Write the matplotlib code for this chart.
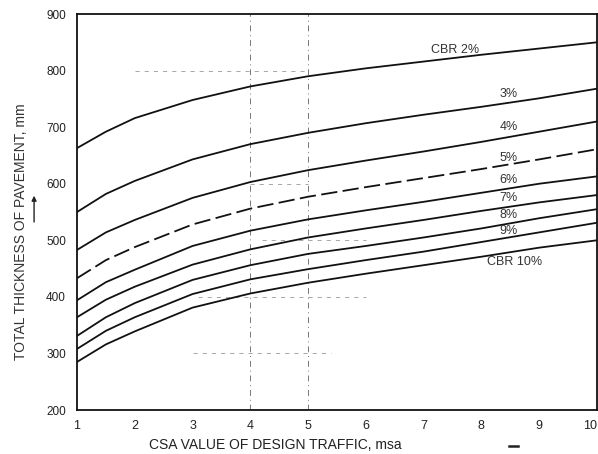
import matplotlib.pyplot as plt

plt.rcParams['font.family'] = ['Liberation Sans', 'DejaVu Sans']

# CSA value of design traffic (msa)
csa = [1, 1.5, 2, 3, 4, 5, 6, 7, 8, 9, 10]

# total pavement thickness (mm)
cbr_2 = [663, 692, 716, 748, 772, 790, 804, 816, 828, 839, 850]
cbr_3 = [550, 582, 605, 643, 670, 690, 707, 722, 736, 751, 768]
cbr_4 = [483, 514, 536, 575, 603, 624, 641, 657, 674, 692, 710]
cbr_5 = [433, 465, 488, 528, 556, 577, 594, 610, 626, 643, 661]
cbr_6 = [394, 426, 448, 490, 517, 537, 553, 568, 584, 600, 613]
cbr_7 = [364, 395, 418, 457, 484, 505, 521, 536, 552, 567, 580]
cbr_8 = [331, 364, 389, 430, 456, 476, 490, 505, 521, 539, 555]
cbr_9 = [308, 340, 364, 405, 431, 449, 465, 480, 497, 514, 531]
cbr_10 = [285, 316, 339, 381, 406, 425, 441, 456, 471, 487, 500]

curves = [cbr_2, cbr_3, cbr_4, cbr_5, cbr_6, cbr_7, cbr_8, cbr_9, cbr_10]
curve_labels = ['CBR 2%', '3%', '4%', '5%', '6%', '7%', '8%', '9%', 'CBR 10%']
# where each label sits (x, thickness)
label_x = [7.55, 8.47, 8.47, 8.47, 8.47, 8.47, 8.47, 8.47, 8.57]
label_y = [837, 758, 701, 646, 606, 574, 544, 517, 461]

# faint construction lines on the original chart
guide_v_x = [4, 5]
guide_h_y = [800, 600, 500, 400, 300]
guide_h_from = [2.0, 4.0, 4.2, 3.1, 3.0]
guide_h_to = [5.0, 5.0, 6.0, 6.0, 5.4]

x_ticks = [1, 2, 3, 4, 5, 6, 7, 8, 9, 10]
y_ticks = [200, 300, 400, 500, 600, 700, 800, 900]

fig = plt.figure(figsize=(5.98, 4.54), dpi=100)
ax = fig.add_axes([0.1288, 0.0969, 0.8694, 0.8722])

for gx in guide_v_x:
    ax.axvline(gx, color='#777777', lw=0.7, ls=(0, (6, 4, 1, 4)), zorder=1)
for gy, x0, x1 in zip(guide_h_y, guide_h_from, guide_h_to):
    ax.plot([x0, x1], [gy, gy], color='#999999', lw=0.6, ls=(0, (5, 6)), zorder=1)

for i, vals in enumerate(curves):
    style = (0, (9, 3)) if curve_labels[i] == '5%' else '-'
    ax.plot(csa, vals, color='#111111', lw=1.3, ls=style, zorder=3)

for lab, lx, ly in zip(curve_labels, label_x, label_y):
    ax.text(lx, ly, lab, fontsize=9, color='#333333', ha='center', va='center')

ax.set_xlim(1, 10)
ax.set_ylim(200, 900)
ax.set_xticks(x_ticks)
ax.set_yticks(y_ticks)
ax.tick_params(axis='both', length=0, colors='#222222')
ax.tick_params(axis='x', labelsize=9, pad=7)
ax.tick_params(axis='y', labelsize=8.5, pad=8)
# last x label would run off the right edge
ax.get_xticklabels()[-1].set_horizontalalignment('right')
for spine in ax.spines.values():
    spine.set_linewidth(1.3)
    spine.set_color('#111111')

fig.text(0.035, 0.49, 'TOTAL THICKNESS OF PAVEMENT, mm', rotation=90,
         fontsize=10, color='#333333', ha='center', va='center')
fig.text(0.46, 0.02, 'CSA VALUE OF DESIGN TRAFFIC, msa',
         fontsize=10, color='#222222', ha='center', va='center')

# small direction arrows next to the axis titles
ax.annotate('', xy=(0.057, 0.575), xytext=(0.057, 0.505), xycoords='figure fraction',
            arrowprops=dict(arrowstyle='-|>', color='#222222', lw=1.0, mutation_scale=7))
fig.add_artist(plt.Line2D([0.852, 0.866], [0.018, 0.018], color='#222222', lw=1.8))

plt.savefig('out.png', dpi=100)
plt.close()
